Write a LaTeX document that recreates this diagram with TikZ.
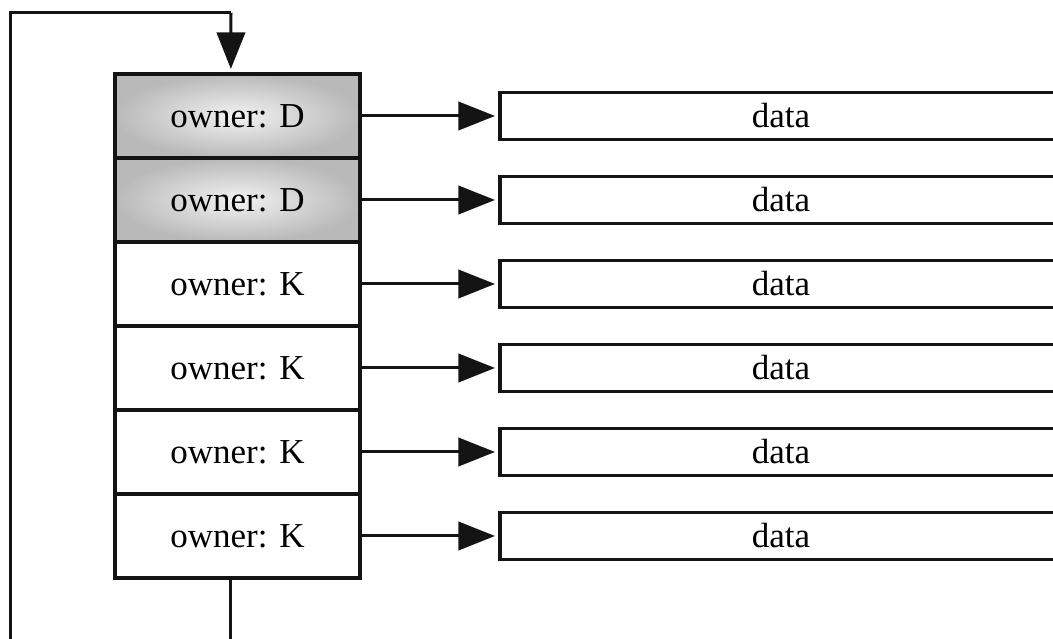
\documentclass[tikz,border=0pt]{standalone}
\usepackage{fontspec}
\setmainfont{Liberation Serif}
\usepackage{tikz}
\usetikzlibrary{
  arrows.meta,
  positioning
}
\definecolor{cellline}{RGB}{20,20,20}
\definecolor{cellshadein}{RGB}{242,242,242}
\definecolor{cellshadeout}{RGB}{185,185,185}
\tikzset{
  ownerCell/.style={
    rectangle,
    draw=cellline,
    fill=white,
    line width=1pt,
    outer sep=0pt,
    minimum width=73.5pt,
    minimum height=25.2pt,
    font=\fontsize{10.5}{12}\selectfont,
    align=center
  },
  ownerShaded/.style={
    ownerCell,
    shading=radial,
    inner color=cellshadein,
    outer color=cellshadeout
  },
  dataBox/.style={
    rectangle,
    draw=cellline,
    fill=white,
    line width=1pt,
    outer sep=0pt,
    minimum width=168.6pt,
    minimum height=12.6pt,
    font=\fontsize{10.5}{12}\selectfont
  },
  ptrArrow/.style={
    -{Triangle[length=11pt,width=8.5pt]},
    line width=0.9pt,
    draw=cellline,
    shorten >=1.5pt
  }
}

\begin{document}
\begin{tikzpicture}[node distance=42pt]
  \useasboundingbox (0,0) rectangle (315.9pt,-191.7pt);
  \clip (0,0) rectangle (315.9pt,-191.7pt);

  \node[ownerShaded] (o1) at (71.25pt,-34.8pt) {owner: D};
  \node[ownerShaded, below=0pt of o1] (o2) {owner: D};
  \node[ownerCell, below=0pt of o2] (o3) {owner: K};
  \node[ownerCell, below=0pt of o3] (o4) {owner: K};
  \node[ownerCell, below=0pt of o4] (o5) {owner: K};
  \node[ownerCell, below=0pt of o5] (o6) {owner: K};

  \foreach \i in {1,...,6} {
    \node[dataBox, right=of o\i] (d\i) {data};
    \draw[ptrArrow] (o\i) -- (d\i);
  }

  % loop back from the bottom of the list to its head
  \coordinate (loopTop) at (69.3pt,-3.9pt);
  \coordinate (loopLeft) at (3pt,-3.9pt);
  \coordinate (loopLow) at (3pt,-200pt);
  \draw[line width=0.9pt, draw=cellline]
    ([xshift=-2pt]o6.south) -- ([xshift=-2pt]o6.south |- loopLow) -- (loopLow)
    -- (loopLeft) -- (loopTop);
  \draw[ptrArrow] (loopTop) -- ([xshift=-2pt]o1.north);
\end{tikzpicture}
\end{document}
